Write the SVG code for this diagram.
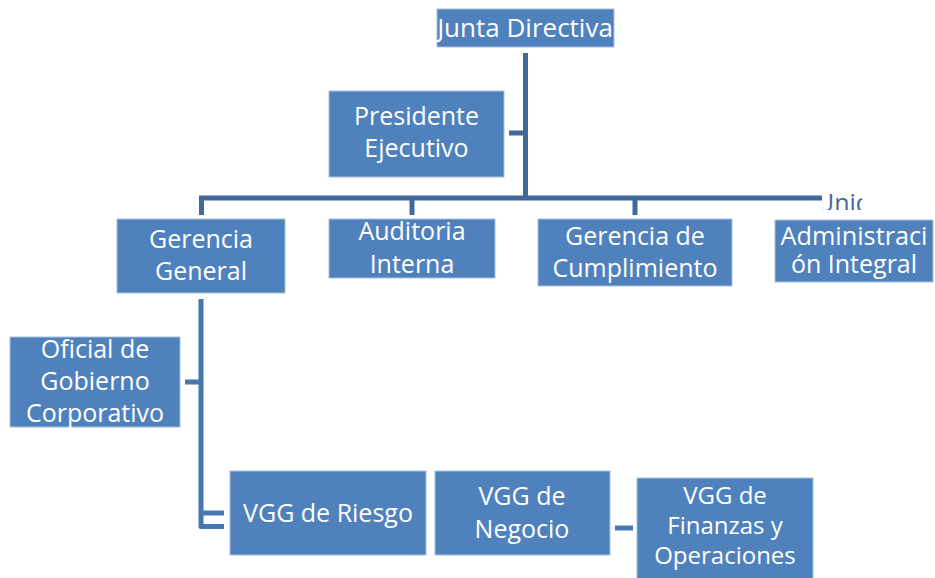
<svg xmlns="http://www.w3.org/2000/svg" width="935" height="578" viewBox="0 0 935 578">
<style>
.box{fill:#4F81BD;stroke:#A9C0DD;stroke-width:1}
.t{font-family:"Open Sans","DejaVu Sans",sans-serif;font-size:25px;fill:#FFFFFF;text-anchor:middle}
.s{font-size:24px}
.top{stroke:#41699A;stroke-width:5;fill:none}
.low{stroke:#4876B0;stroke-width:5;fill:none;stroke-linejoin:round}
</style>
<defs>
<clipPath id="clipUni"><rect x="822" y="190" width="40" height="20"/></clipPath>
</defs>
<rect width="935" height="578" fill="#FFFFFF"/>
<g id="connectors">
<line class="top" x1="525.5" y1="53" x2="525.5" y2="198"/>
<line class="top" x1="509" y1="133" x2="525.5" y2="133"/>
<polyline class="top" points="201.5,215 201.5,198 822,198"/>
<line class="top" x1="412" y1="198" x2="412" y2="215"/>
<line class="top" x1="635" y1="198" x2="635" y2="215"/>
<polyline class="low" points="201,299 201,526.5 224,526.5"/>
<line class="low" x1="201" y1="513" x2="224" y2="513"/>
<line class="low" x1="185" y1="382" x2="201" y2="382"/>
<line class="low" x1="615" y1="528" x2="633" y2="528"/>
<text x="816" y="212" clip-path="url(#clipUni)" style="font-family:'Open Sans','DejaVu Sans',sans-serif;font-size:25px;fill:#41699A">Unid</text>
</g>
<g id="junta">
<rect class="box" x="437" y="9" width="177" height="38"/>
<text class="t" x="525" y="37" style="font-size:26px">Junta Directiva</text>
</g>
<g id="presidente">
<rect class="box" x="329" y="91" width="175" height="86"/>
<text class="t" x="416.5" y="125">Presidente</text>
<text class="t" x="416.5" y="157">Ejecutivo</text>
</g>
<g id="gerencia-general">
<rect class="box" x="117" y="219" width="168" height="74"/>
<text class="t" x="201" y="248">Gerencia</text>
<text class="t" x="201" y="280">General</text>
</g>
<g id="auditoria">
<rect class="box" x="329" y="219" width="166" height="59"/>
<text class="t" x="412" y="240">Auditoria</text>
<text class="t" x="412" y="273">Interna</text>
</g>
<g id="cumplimiento">
<rect class="box" x="538" y="219" width="194" height="67"/>
<text class="t" x="635" y="245">Gerencia de</text>
<text class="t" x="635" y="277">Cumplimiento</text>
</g>
<g id="administracion">
<rect class="box" x="775" y="220" width="158" height="62"/>
<text class="t" x="854" y="245" textLength="147" lengthAdjust="spacingAndGlyphs">Administraci</text>
<text class="t" x="854" y="273">ón Integral</text>
</g>
<g id="oficial">
<rect class="box" x="10" y="337" width="170" height="90"/>
<text class="t" x="95" y="358">Oficial de</text>
<text class="t" x="95" y="390">Gobierno</text>
<text class="t" x="95" y="422">Corporativo</text>
</g>
<g id="riesgo">
<rect class="box" x="230" y="471" width="196" height="84"/>
<text class="t" x="328" y="522">VGG de Riesgo</text>
</g>
<g id="negocio">
<rect class="box" x="435" y="471" width="175" height="84"/>
<text class="t" x="522" y="505">VGG de</text>
<text class="t" x="522" y="538">Negocio</text>
</g>
<g id="finanzas">
<rect class="box" x="637" y="478" width="176" height="102"/>
<text class="t s" x="725" y="504">VGG de</text>
<text class="t s" x="725" y="534">Finanzas y</text>
<text class="t s" x="725" y="564">Operaciones</text>
</g>
</svg>
